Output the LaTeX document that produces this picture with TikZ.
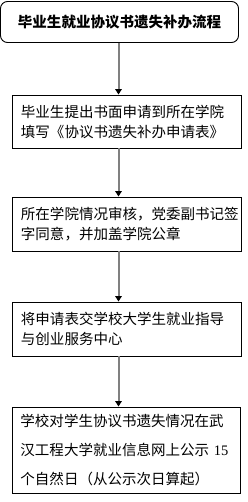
\documentclass[tikz,border=0pt]{standalone}
\usepackage{fontspec}
\setmainfont{Liberation Serif}
\newfontfamily\cjk{Noto Sans CJK SC}
\usetikzlibrary{arrows.meta}
\tikzset{
  stepbox/.style={draw=black, line width=0.9bp, rectangle, inner sep=0pt,
    text width=211bp, align=left, font=\cjk\fontsize{14.5bp}{20bp}\selectfont},
  titlebox/.style={draw=black, line width=0.9bp, rounded corners=7bp, inner sep=0pt,
    minimum width=238bp, minimum height=41bp, align=center,
    font=\cjk\bfseries\fontsize{14.5bp}{18bp}\selectfont},
  flow/.style={draw=gray, line width=2bp, -{Triangle[color=black,fill=black,width=6.5bp,length=5.5bp]}}
}
\begin{document}
\begin{tikzpicture}[x=1bp,y=-1bp]
\useasboundingbox (0,0) rectangle (247,502);
\node[titlebox] (b1) at (119.5,22) {毕业生就业协议书遗失补办流程};
\node[stepbox, minimum width=229bp, minimum height=53bp] (b2) at (126.5,121.5)
  {毕业生提出书面申请到所在学院\\填写《协议书遗失补办申请表》};
\node[stepbox, minimum width=229bp, minimum height=54bp] (b3) at (126.5,224)
  {所在学院情况审核，党委副书记签\\字同意，并加盖学院公章};
\node[stepbox, minimum width=229bp, minimum height=54bp] (b4) at (126.5,329)
  {将申请表交学校大学生就业指导\\与创业服务中心};
\node[stepbox, minimum width=228bp, minimum height=86bp,
  font=\cjk\fontsize{14.5bp}{29bp}\selectfont] (b5) at (126,450)
  {学校对学生协议书遗失情况在武\\汉工程大学就业信息网上公示 {\rmfamily 15}\\个自然日（从公示次日算起）};
\coordinate (ax) at (118.5,0);
\draw[flow] (b1.south -| ax) -- (b2.north -| ax);
\draw[flow] (b2.south -| ax) -- (b3.north -| ax);
\draw[flow] (b3.south -| ax) -- (b4.north -| ax);
\draw[flow] (b4.south -| ax) -- (b5.north -| ax);
\end{tikzpicture}
\end{document}
